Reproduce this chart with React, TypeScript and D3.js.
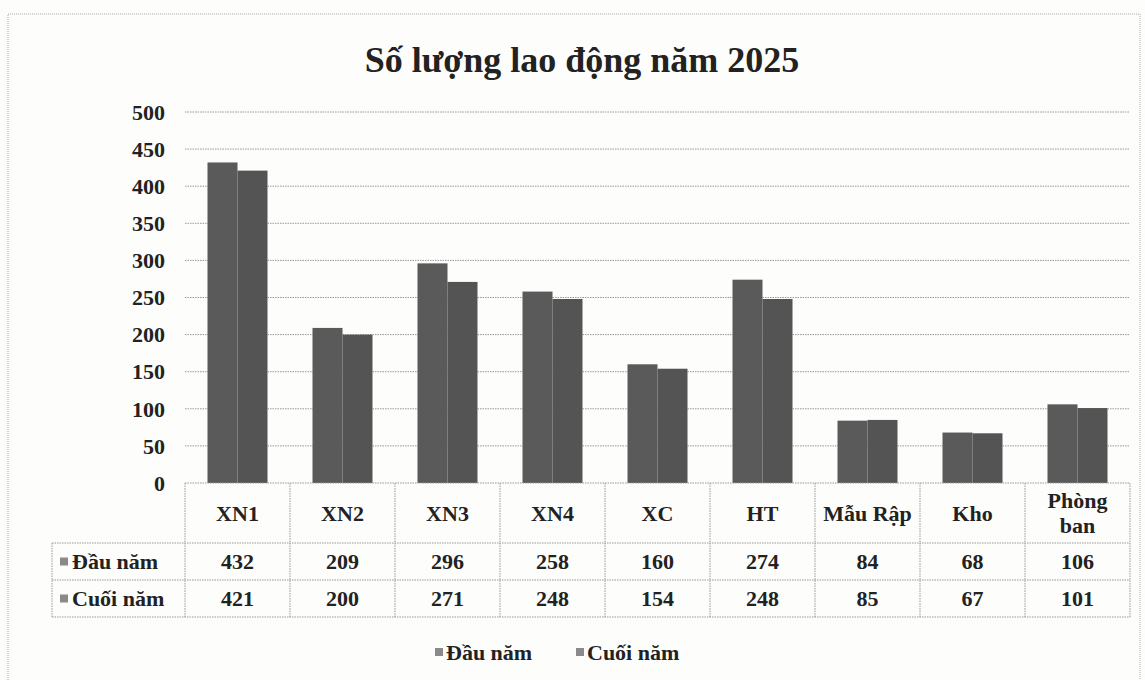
import * as d3 from "d3";
import React from "react";

const categories = ["XN1", "XN2", "XN3", "XN4", "XC", "HT", "Mẫu Rập", "Kho", "Phòng ban"];
const seriesNames = ["Đầu năm", "Cuối năm"];
const dauNam = [432, 209, 296, 258, 160, 274, 84, 68, 106];
const cuoiNam = [421, 200, 271, 248, 154, 248, 85, 67, 101];
const yTicks = [0, 50, 100, 150, 200, 250, 300, 350, 400, 450, 500];

const W = 1145;
const H = 680;
const FONT = "'Liberation Serif', 'Times New Roman', serif";

export default function App() {
  // plot box
  const left = 185;
  const right = 1130;
  const top = 112;
  const bottom = 483;

  const x = d3.scaleBand<string>().domain(categories).range([left, right]).padding(0);
  const y = d3.scaleLinear().domain([0, 500]).range([bottom, top]);
  const barW = 30;

  const series = [dauNam, cuoiNam];
  const colors = ["#5a5a5a", "#545454"];

  // data table rows
  const headerBottom = 543;
  const rowH = 37;
  const tableLeft = 52;
  const fs = 22;

  return (
    <svg width={W} height={H} style={{ position: "absolute", left: 0, top: 0, background: "#fdfdfb" }}>
      {/* outer border */}
      <rect x={8} y={14} width={1132} height={680} fill="none" stroke="#aaa" strokeDasharray="1 1" />

      <text x={582} y={72} textAnchor="middle" fontFamily={FONT} fontWeight="bold" fontSize={36} fill="#222">
        Số lượng lao động năm 2025
      </text>

      {/* grid */}
      {yTicks.filter(t => t > 0).map(t => (
        <line key={t} x1={left} x2={right} y1={y(t)} y2={y(t)} stroke="#999" strokeDasharray="1.5 1" />
      ))}
      {yTicks.map(t => (
        <text key={t} x={165} y={y(t)} dy="0.35em" textAnchor="end" fontFamily={FONT} fontWeight="bold" fontSize={fs} fill="#222">
          {t}
        </text>
      ))}

      {/* bars */}
      {categories.map((c, i) => {
        const cx = (x(c) as number) + x.bandwidth() / 2;
        return (
          <g key={c}>
            {series.map((s, k) => (
              <rect key={k} x={cx - barW + k * barW} y={y(s[i])} width={barW} height={bottom - y(s[i])} fill={colors[k]} />
            ))}
          </g>
        );
      })}

      {/* data table */}
      <g stroke="#999" strokeDasharray="1.5 1" fill="none">
        <line x1={left} x2={right} y1={bottom} y2={bottom} />
        <line x1={tableLeft} x2={right} y1={headerBottom} y2={headerBottom} />
        <line x1={tableLeft} x2={right} y1={headerBottom + rowH} y2={headerBottom + rowH} />
        <line x1={tableLeft} x2={right} y1={headerBottom + 2 * rowH} y2={headerBottom + 2 * rowH} />
        <line x1={tableLeft} x2={tableLeft} y1={headerBottom} y2={headerBottom + 2 * rowH} />
        {categories.map(c => (
          <line key={c} x1={x(c)} x2={x(c)} y1={bottom} y2={headerBottom + 2 * rowH} />
        ))}
        <line x1={right} x2={right} y1={bottom} y2={headerBottom + 2 * rowH} />
      </g>
      {categories.map(c => {
        const cx = (x(c) as number) + x.bandwidth() / 2;
        const words = c === "Phòng ban" ? ["Phòng", "ban"] : [c];
        return (
          <text key={c} textAnchor="middle" fontFamily={FONT} fontWeight="bold" fontSize={fs} fill="#222">
            {words.length === 1 ? (
              <tspan x={cx} y={(bottom + headerBottom) / 2} dy="0.35em">{c}</tspan>
            ) : (
              words.map((w, j) => (
                <tspan key={j} x={cx} y={(bottom + headerBottom) / 2 + (j - 0.5) * 25} dy="0.35em">{w}</tspan>
              ))
            )}
          </text>
        );
      })}
      {series.map((s, k) => {
        const ry = headerBottom + rowH * k + rowH / 2;
        return (
          <g key={k}>
            <rect x={60} y={ry - 4} width={8} height={8} fill="#8a8a8a" />
            <text x={72} y={ry} dy="0.35em" fontFamily={FONT} fontWeight="bold" fontSize={fs} fill="#222">
              {seriesNames[k]}
            </text>
            {categories.map((c, i) => (
              <text key={c} x={(x(c) as number) + x.bandwidth() / 2} y={ry} dy="0.35em" textAnchor="middle" fontFamily={FONT} fontWeight="bold" fontSize={fs} fill="#222">
                {s[i]}
              </text>
            ))}
          </g>
        );
      })}

      {/* legend */}
      {seriesNames.map((n, k) => {
        const lx = 435 + k * 141;
        return (
          <g key={n}>
            <rect x={lx} y={648} width={8} height={8} fill="#8a8a8a" />
            <text x={lx + 11} y={652} dy="0.35em" fontFamily={FONT} fontWeight="bold" fontSize={fs} fill="#222">
              {n}
            </text>
          </g>
        );
      })}
    </svg>
  );
}
